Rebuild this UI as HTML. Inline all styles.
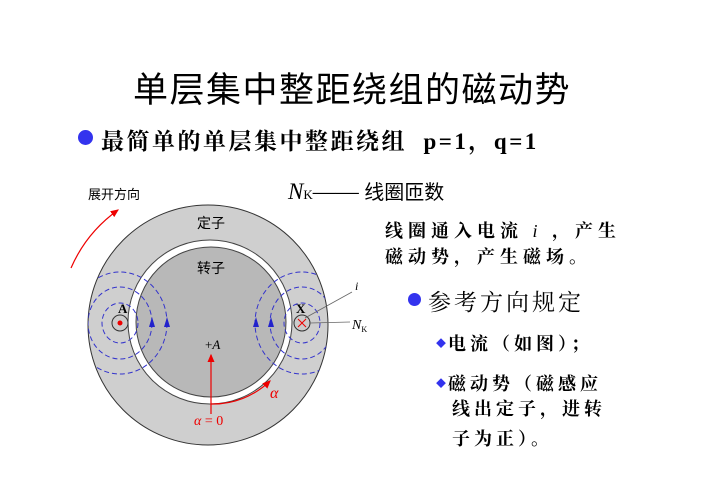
<!DOCTYPE html>
<html><head><meta charset="utf-8"><style>
body{margin:0;width:702px;height:496px;background:#fff;position:relative;overflow:hidden;font-family:"Liberation Serif","Noto Serif CJK SC",serif}
.t{position:absolute;white-space:nowrap;color:#000}
.s{font-family:"Liberation Sans","Noto Sans CJK SC",sans-serif}
</style></head><body>
<div class="t s" style="left:133px;top:62px;font-size:35px;letter-spacing:1.5px">单层集中整距绕组的磁动势</div>
<div style="position:absolute;left:78px;top:130px;width:15px;height:15px;border-radius:50%;background:#3333ee"></div>
<div class="t" style="left:101px;top:123px;font-size:23px;font-weight:bold;letter-spacing:2.5px">最简单的单层集中整距绕组&nbsp; p=1，q=1</div>
<div class="t" style="left:288px;top:176px;font-size:23px"><i>N</i><span style="font-size:13px">K</span>——<span class="s" style="font-size:20px"> 线圈匝数</span></div>
<div class="t" style="left:385px;top:218px;font-size:18px;font-weight:bold;letter-spacing:5px;line-height:26px">线圈通入电流 <i style="font-weight:normal">i</i> ，产生<br>磁动势，产生磁场。</div>
<div style="position:absolute;left:408px;top:293px;width:13px;height:13px;border-radius:50%;background:#3333ee"></div>
<div class="t" style="left:428px;top:284px;font-size:23px;letter-spacing:3px">参考方向规定</div>
<div class="t" style="left:436px;top:326px;font-size:18px;font-weight:bold;letter-spacing:4px;line-height:37px"><span style="color:#3333ee;font-size:10px;position:relative;top:-3px;letter-spacing:2px">◆</span>电流（如图）；<br><span style="color:#3333ee;font-size:10px;position:relative;top:-3px;letter-spacing:2px">◆</span>磁动势（磁感应</div>
<div class="t" style="left:452px;top:394px;font-size:18px;font-weight:bold;letter-spacing:4px;line-height:30px">线出定子，进转<br>子为正）。</div>
<svg width="702" height="496" style="position:absolute;left:0;top:0">
<defs><marker id="r" markerWidth="8" markerHeight="8" refX="6" refY="4" orient="auto"><path d="M0,1 L7,4 L0,7z" fill="#e00"/></marker>
<clipPath id="c"><circle cx="208" cy="325" r="120"/></clipPath></defs>
<circle cx="208" cy="325" r="120" fill="#cfcfcf" stroke="#333" stroke-width="1"/>
<circle cx="210" cy="322" r="82" fill="#fff" stroke="#444" stroke-width="1"/>
<circle cx="211" cy="322" r="75" fill="#b8b8b8" stroke="#444" stroke-width="1"/>
<g fill="none" stroke="#33c" stroke-width="1" stroke-dasharray="5,3" clip-path="url(#c)">
<ellipse cx="120" cy="323" rx="18" ry="20"/><ellipse cx="120" cy="323" rx="32" ry="36"/><ellipse cx="120" cy="323" rx="47" ry="51"/>
<ellipse cx="302" cy="323" rx="18" ry="20"/><ellipse cx="302" cy="323" rx="32" ry="36"/><ellipse cx="302" cy="323" rx="47" ry="51"/>
</g>
<g fill="#22c"><path d="M149,327 L152,317 L155,327z"/><path d="M164,327 L167,317 L170,327z"/><path d="M253,327 L256,317 L259,327z"/><path d="M268,327 L271,317 L274,327z"/></g>
<circle cx="120" cy="323" r="8" fill="#ccc" stroke="#333"/><circle cx="120" cy="323" r="2.5" fill="#e00"/>
<circle cx="302" cy="323" r="8" fill="#ccc" stroke="#333"/><path d="M298,319 L306,327 M306,319 L298,327" stroke="#e00"/>
<text x="118" y="313" font-size="13" font-weight="bold" font-family="Liberation Serif">A</text>
<text x="296" y="313" font-size="13" font-weight="bold" font-family="Liberation Serif">X</text>
<path d="M305,318 L352,292 M310,323 L350,322" stroke="#666" stroke-width="0.8"/>
<text x="355" y="290" font-size="12" font-style="italic" font-family="Liberation Serif">i</text>
<text x="352" y="329" font-size="14" font-style="italic" font-family="Liberation Serif">N<tspan font-size="8" font-style="normal" dy="3">K</tspan></text>
<text x="197" y="228" font-size="14" font-family="Noto Sans CJK SC">定子</text>
<text x="197" y="273" font-size="14" font-family="Noto Sans CJK SC">转子</text>
<text x="88" y="199" font-size="13" font-family="Noto Sans CJK SC">展开方向</text>
<text x="205" y="349" font-size="13" font-family="Liberation Serif">+<tspan font-style="italic">A</tspan></text>
<path d="M211,414 L211,355" stroke="#e00" stroke-width="1.2" marker-end="url(#r)"/>
<path d="M211,404 A82,82 0 0,0 270,381" fill="none" stroke="#e00" stroke-width="1.2" marker-end="url(#r)"/>
<path d="M71,268 A140,140 0 0,1 118,210" fill="none" stroke="#e00" stroke-width="1.2" marker-end="url(#r)"/>
<text x="270" y="398" font-size="16" font-style="italic" fill="#e00" font-family="Liberation Serif">α</text>
<text x="194" y="425" font-size="14" fill="#e00" font-family="Liberation Serif"><tspan font-style="italic">α</tspan> = 0</text>
</svg>
</body></html>
